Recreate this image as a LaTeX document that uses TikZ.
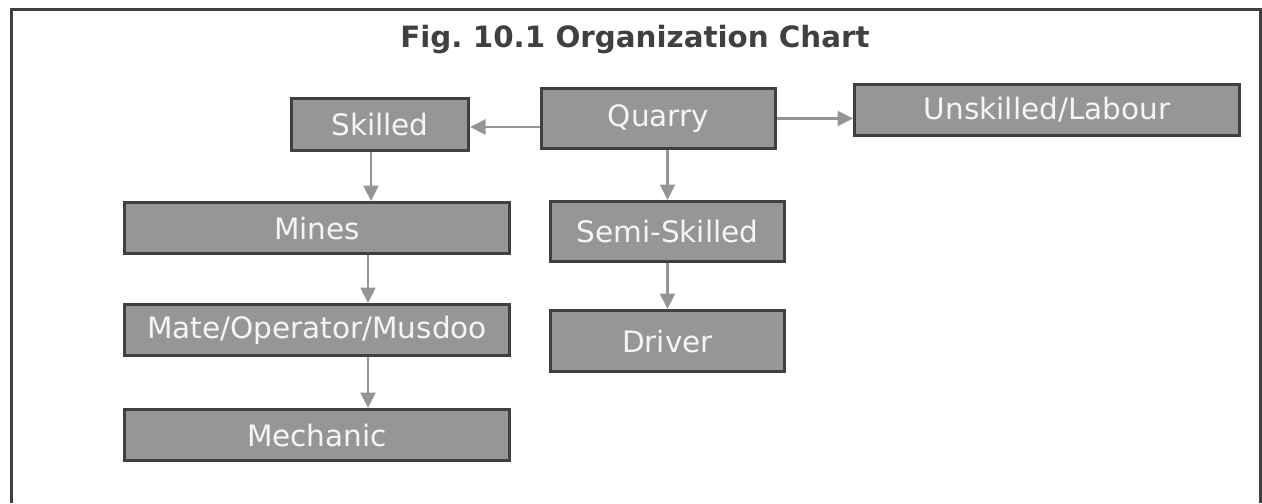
\documentclass[tikz,border=0pt]{standalone}
\usepackage{fontspec}
\setmainfont{DejaVu Sans}
\usepackage{xcolor}
\usetikzlibrary{arrows.meta, positioning}

\definecolor{framegray}{HTML}{404040}
\definecolor{boxfill}{HTML}{969696}
\definecolor{linkgray}{HTML}{959595}

\begin{document}
\frenchspacing
\begin{tikzpicture}[
    orgbox/.style={rectangle, draw=framegray, fill=boxfill, line width=0.06cm, text=white!96!black, align=center, minimum height=1.02cm, inner sep=0pt, font=\fontsize{16.8pt}{20pt}\selectfont},
    link/.style={draw=linkgray, line width=0.045cm, -{Triangle[length=3.1mm, width=3mm]}},
    title/.style={text=framegray, font=\fontsize{16.7pt}{20pt}\selectfont\bfseries, anchor=base}
]
    \useasboundingbox (0,0) rectangle (25.24,-10.06);

    % Rahmen und Titel
    \draw [framegray, line width=0.06cm] (0.22,-10.06) -- (0.22,-0.18) -- (25.2,-0.18) -- (25.2,-10.06);
    \node [title] (heading) at (12.7,-0.94) {Fig. 10.1 Organization Chart};

    % Obere Reihe
    \node [orgbox, minimum width=4.68cm, minimum height=1.2cm] (quarry) at (13.17,-2.37) {Quarry};
    \node [orgbox, minimum width=3.54cm, minimum height=1.04cm, left=1.4cm of quarry, yshift=-1.2mm] (skilled) {Skilled};
    \node [orgbox, minimum width=7.7cm, right=1.52cm of quarry, yshift=1.7mm] (unskilled) {Unskilled/Labour};

    % Linke Spalte
    \node [orgbox, minimum width=7.7cm] (mines) at (6.34,-4.56) {Mines};
    \node [orgbox, minimum width=7.7cm, below=0.96cm of mines] (mate) {Mate/Operator/Musdoo};
    \node [orgbox, minimum width=7.7cm, below=1.02cm of mate] (mechanic) {Mechanic};

    % Mittlere Spalte
    \node [orgbox, minimum width=4.68cm, minimum height=1.2cm, below=1cm of quarry, xshift=1.8mm] (semiskilled) {Semi-Skilled};
    \node [orgbox, minimum width=4.68cm, minimum height=1.22cm, below=0.92cm of semiskilled] (driver) {Driver};

    % Verbindungen
    \draw [link] ([yshift=-1.7mm]quarry.west) -- ([yshift=-1.7mm]quarry.west -| skilled.east);
    \draw [link] (quarry.east) -- (quarry.east -| unskilled.west);
    \draw [link] (quarry.south -| semiskilled.north) -- (semiskilled.north);
    \draw [link] (semiskilled) -- (driver);

    \draw [link] ([xshift=-1.8mm]skilled.south) -- ([xshift=-1.8mm]skilled.south |- mines.north);
    \draw [link] ([xshift=10.2mm]mines.south) -- ([xshift=10.2mm]mate.north);
    \draw [link] ([xshift=10.2mm]mate.south) -- ([xshift=10.2mm]mate.south |- mechanic.north);

\end{tikzpicture}
\end{document}
